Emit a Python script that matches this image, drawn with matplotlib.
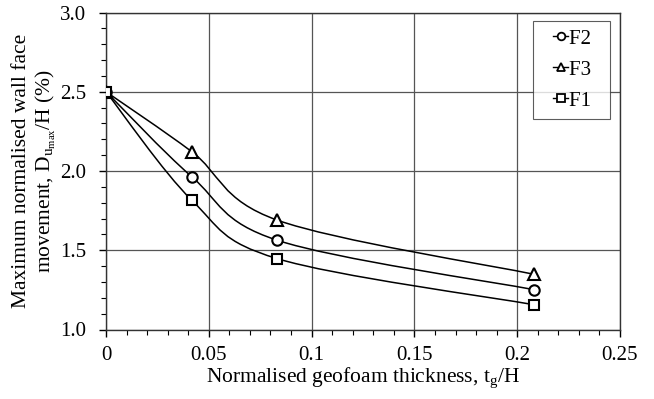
import matplotlib
matplotlib.use('Agg')
import matplotlib.pyplot as plt
import numpy as np
from matplotlib.path import Path
from matplotlib.patches import PathPatch
from matplotlib.ticker import MultipleLocator
from matplotlib.legend_handler import HandlerLine2D

plt.rcParams['font.family'] = 'Liberation Serif'
plt.rcParams['mathtext.fontset'] = 'custom'
plt.rcParams['mathtext.rm'] = 'Liberation Serif'
plt.rcParams['mathtext.it'] = 'Liberation Serif'

# data
thickness = [0, 0.0417, 0.0833, 0.2083]
f2 = [2.5, 1.964, 1.563, 1.251]
f3 = [2.5, 2.122, 1.690, 1.348]
f1 = [2.5, 1.816, 1.447, 1.156]


def smooth_path(x, y):
	# Excel-like smoothed line: bezier segments with catmull-rom control points
	p = np.column_stack([x, y])
	n = len(p)
	verts = [p[0]]
	codes = [Path.MOVETO]
	for i in range(n - 1):
		p0 = p[i - 1] if i > 0 else p[i]
		p3 = p[i + 2] if i + 2 < n else p[i + 1]
		c1 = p[i] + (p[i + 1] - p0) / 6
		c2 = p[i + 1] - (p3 - p[i]) / 6
		verts += [c1, c2, p[i + 1]]
		codes += [Path.CURVE4] * 3
	return Path(verts, codes)


fig = plt.figure(figsize=(6.54, 3.99), dpi=100)
ax = fig.add_axes([106/654, 1 - 329.5/399, 514/654, 317/399])

series = [('F2', f2, 'o'), ('F3', f3, '^'), ('F1', f1, 's')]
for name, vals, m in series:
	ax.add_patch(PathPatch(smooth_path(thickness, vals), fill=False, lw=1.1, ec='black', zorder=3))
	ax.plot(thickness, vals, ls='none', marker=m, ms=7.5 if m != '^' else 8,
		mfc='white', mec='black', mew=1.5, zorder=4)

# legend handles: small marker with a short line through it
handles = [plt.Line2D([], [], color='black', lw=1.0, marker=m, ms=5.5, mfc='white',
	mec='black', mew=1.3) for _, _, m in series]
hmap = {h: HandlerLine2D(xpad=0.56) for h in handles}
leg = ax.legend(handles, [s[0] + '  ' for s in series], loc='upper right', bbox_to_anchor=(0.9805, 0.974),
	fontsize=15, frameon=True, fancybox=False, edgecolor='#333333', handlelength=1.26,
	handletextpad=0.05, labelspacing=0.55, borderpad=0.4, borderaxespad=0, handler_map=hmap)
leg.get_frame().set_linewidth(0.8)

ax.set_xlim(0, 0.25)
ax.set_ylim(1.0, 3.0)
ax.xaxis.set_minor_locator(MultipleLocator(0.01))
ax.yaxis.set_minor_locator(MultipleLocator(0.1))
ax.set_xticks([0, 0.05, 0.1, 0.15, 0.2, 0.25])
ax.set_xticklabels(['0', '0.05', '0.1', '0.15', '0.2', '0.25'])
ax.set_yticks([1.0, 1.5, 2.0, 2.5, 3.0])
ax.set_yticklabels(['1.0', '1.5', '2.0', '2.5', '3.0'])
ax.tick_params(which='major', direction='out', length=5, width=1, labelsize=15, color='black')
ax.tick_params(which='minor', direction='out', length=3.5, width=0.8, color='black')
ax.tick_params(axis='x', pad=7)
ax.tick_params(axis='y', pad=9)
ax.grid(True, which='major', color='#555555', lw=0.9)
ax.set_axisbelow(True)
for s in ax.spines.values():
	s.set_linewidth(1.0)
	s.set_color('#333333')

ax.set_xlabel('Normalised geofoam thickness, t$_\\mathrm{g}$/H', fontsize=15.5, labelpad=0)
ax.set_ylabel('Maximum normalised wall face\nmovement, D$_{\\mathrm{u}_{\\mathrm{max}}}$/H (%)', fontsize=15.5,
	labelpad=2, linespacing=1.15)

fig.savefig('out.png', dpi=100)
